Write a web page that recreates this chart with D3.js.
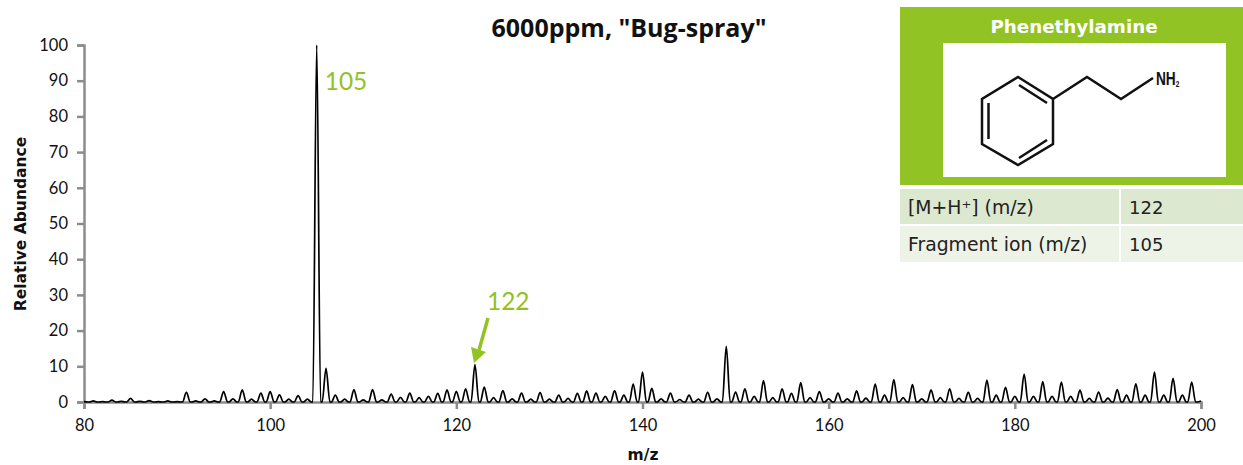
<!DOCTYPE html>
<html>
<head>
<meta charset="utf-8">
<title>6000ppm, "Bug-spray"</title>
<script src="https://cdn.jsdelivr.net/npm/d3@7"></script>
<style>
html, body { margin: 0; padding: 0; background: #fff; overflow: hidden; }
svg { display: block; }
text { font-family: Lato, sans-serif; fill: #111; }
.panel text { font-family: "DejaVu Sans", sans-serif; }
.axis path, .axis line { stroke: #8c8c8c; stroke-width: 2.5px; }
.axis text { font-size: 16.5px; }
.axis-title { font-size: 15.5px; font-weight: 700; font-family: "DejaVu Sans", sans-serif; }
.hit-label { fill: #92c325; font-size: 24.5px; }
</style>
</head>
<body>
<svg id="chart" width="1243" height="465"></svg>
<script>
'use strict';

var START_MZ = 80;
// relative abundance of the peak at each whole m/z, 80 to 200
var abundance = [
    0.1, 0.3, 0.1, 0.5, 0.2, 1.0, 0.2, 0.4, 0.1, 0.3,
    0.1, 2.7, 0.3, 0.9, 0.3, 2.9, 0.9, 3.4, 0.8, 2.5,
    2.9, 2.0, 0.8, 1.8, 0.8, 100, 9.4, 1.9, 0.8, 3.5,
    0.6, 3.5, 0.6, 2.2, 1.3, 2.5, 1.2, 1.6, 2.4, 3.4,
    3.0, 3.7, 10.5, 4.2, 1.2, 3.2, 0.9, 2.5, 0.8, 2.6,
    0.8, 1.9, 1.0, 2.4, 3.1, 2.5, 1.6, 3.2, 1.9, 5.0,
    8.4, 3.8, 0.9, 2.5, 0.7, 1.9, 0.8, 2.7, 0.9, 15.6,
    2.8, 3.7, 1.6, 6.0, 1.2, 3.7, 2.4, 5.4, 1.2, 2.9,
    0.9, 2.5, 0.9, 3.1, 1.1, 5.0, 1.9, 6.3, 1.2, 4.9,
    0.9, 3.4, 1.2, 3.7, 1.0, 2.7, 1.0, 6.1, 1.9, 4.1,
    1.6, 7.8, 1.6, 5.7, 1.6, 5.6, 1.6, 3.3, 1.0, 2.8,
    1.1, 3.5, 1.9, 5.1, 1.9, 8.4, 1.9, 6.6, 1.9, 5.6,
    0.3
];
var xTicks = [80, 100, 120, 140, 160, 180, 200];
var yTicks = [0, 10, 20, 30, 40, 50, 60, 70, 80, 90, 100];
var compoundName = 'Phenethylamine';
var tableLabels = ['[M+H\u207A] (m/z)', 'Fragment ion (m/z)'];
var tableValues = ['122', '105'];

var GREEN = '#92c325';
var PEAK_HALF_WIDTH = 0.42;

var svg = d3.select('#chart');
var x = d3.scaleLinear().domain([80, 200]).range([84, 1201]);
var y = d3.scaleLinear().domain([0, 100]).range([402, 45]);

function getProfile() {
    // every peak rises from the baseline and falls back to it
    var points = [];
    abundance.forEach(function(value, i) {
        var mz = START_MZ + i;
        if (i > 0) {
            points.push([mz - PEAK_HALF_WIDTH, 0]);
        }
        points.push([mz, value]);
        if (i < abundance.length - 1) {
            points.push([mz + PEAK_HALF_WIDTH, 0]);
        }
    });
    return points;
}

function renderAxes() {
    svg.append('g')
        .attr('class', 'axis')
        .attr('transform', 'translate(0,402)')
        .call(d3.axisBottom(x).tickValues(xTicks).tickSize(7).tickPadding(10).tickFormat(d3.format('d')));

    svg.append('g')
        .attr('class', 'axis')
        .attr('transform', 'translate(84,0)')
        .call(d3.axisLeft(y).tickValues(yTicks).tickSize(7).tickPadding(9).tickFormat(d3.format('d')));

    svg.append('text')
        .attr('class', 'axis-title')
        .attr('transform', 'translate(26,224) rotate(-90)')
        .attr('text-anchor', 'middle')
        .text('Relative Abundance');

    svg.append('text')
        .attr('class', 'axis-title')
        .attr('x', 643)
        .attr('y', 460)
        .attr('text-anchor', 'middle')
        .text('m/z');

    svg.append('text')
        .attr('x', 629)
        .attr('y', 37)
        .attr('text-anchor', 'middle')
        .style('font-family', '"Open Sans", sans-serif')
        .style('font-size', '25px')
        .style('font-weight', 700)
        .text('6000ppm, "Bug-spray"');
}

function renderSpectrum() {
    var line = d3.line()
        .x(function(d) { return x(d[0]); })
        .y(function(d) { return y(d[1]); })
        .curve(d3.curveMonotoneX);

    svg.append('path')
        .datum(getProfile())
        .attr('d', line)
        .attr('fill', 'none')
        .attr('stroke', '#000')
        .attr('stroke-width', 1.7);
}

function renderAnnotations() {
    svg.append('text')
        .attr('class', 'hit-label')
        .attr('x', x(105) + 8)
        .attr('y', 90)
        .text('105');

    svg.append('text')
        .attr('class', 'hit-label')
        .attr('x', x(122) + 12)
        .attr('y', 310)
        .text('122');

    svg.append('line')
        .attr('x1', 488)
        .attr('y1', 318)
        .attr('x2', 479)
        .attr('y2', 350)
        .attr('stroke', GREEN)
        .attr('stroke-width', 3.5);

    svg.append('path')
        .attr('d', 'M474 363 L471 347 L486 352 Z')
        .attr('fill', GREEN);
}

function renderPanel() {
    var panel = svg.append('g').attr('class', 'panel');

    panel.append('rect')
        .attr('x', 900).attr('y', 7)
        .attr('width', 343).attr('height', 178)
        .attr('fill', GREEN);

    panel.append('text')
        .attr('x', 1074)
        .attr('y', 33)
        .attr('text-anchor', 'middle')
        .style('font-size', '18.3px')
        .style('font-weight', 700)
        .style('fill', '#fff')
        .text(compoundName);

    panel.append('rect')
        .attr('x', 943).attr('y', 43)
        .attr('width', 283).attr('height', 134)
        .attr('fill', '#fff');

    renderMolecule(panel);

    var rowTops = [189, 226];
    var rowHeights = [35, 36];
    var rowFills = ['#dce8cf', '#eef3e8'];

    tableLabels.forEach(function(label, i) {
        panel.append('rect')
            .attr('x', 900).attr('y', rowTops[i])
            .attr('width', 219).attr('height', rowHeights[i])
            .attr('fill', rowFills[i]);
        panel.append('rect')
            .attr('x', 1121).attr('y', rowTops[i])
            .attr('width', 122).attr('height', rowHeights[i])
            .attr('fill', rowFills[i]);
        panel.append('text')
            .attr('x', 908)
            .attr('y', rowTops[i] + 25)
            .style('font-size', '18.8px')
            .style('fill', '#222')
            .text(label);
        panel.append('text')
            .attr('x', 1129)
            .attr('y', rowTops[i] + 25)
            .style('font-size', '18px')
            .style('fill', '#222')
            .text(tableValues[i]);
    });
}

function renderMolecule(panel) {
    var bonds = [
        'M1018 77 L1053 99 L1053 144 L1018 165 L982 144 L982 99 Z',
        'M1053 99 L1087 77 L1121 99 L1153 78',
        'M1019 85 L1047 103',
        'M988.5 103 L988.5 139',
        'M1019 158 L1047 140'
    ];

    panel.selectAll('.bond')
        .data(bonds)
        .enter()
        .append('path')
        .attr('class', 'bond')
        .attr('d', function(d) { return d; })
        .attr('fill', 'none')
        .attr('stroke', '#111')
        .attr('stroke-width', 2.5);

    // no narrow face installed, so squeeze the label sideways
    var label = panel.append('text')
        .attr('transform', 'translate(1156,85) scale(0.72,1)')
        .style('font-family', '"Liberation Sans", sans-serif')
        .style('font-size', '19px')
        .style('font-weight', 700);
    label.append('tspan').text('NH');
    label.append('tspan').attr('dy', 2).style('font-size', '9px').text('2');
}

renderPanel();
renderAxes();
renderSpectrum();
renderAnnotations();
</script>
</body>
</html>
